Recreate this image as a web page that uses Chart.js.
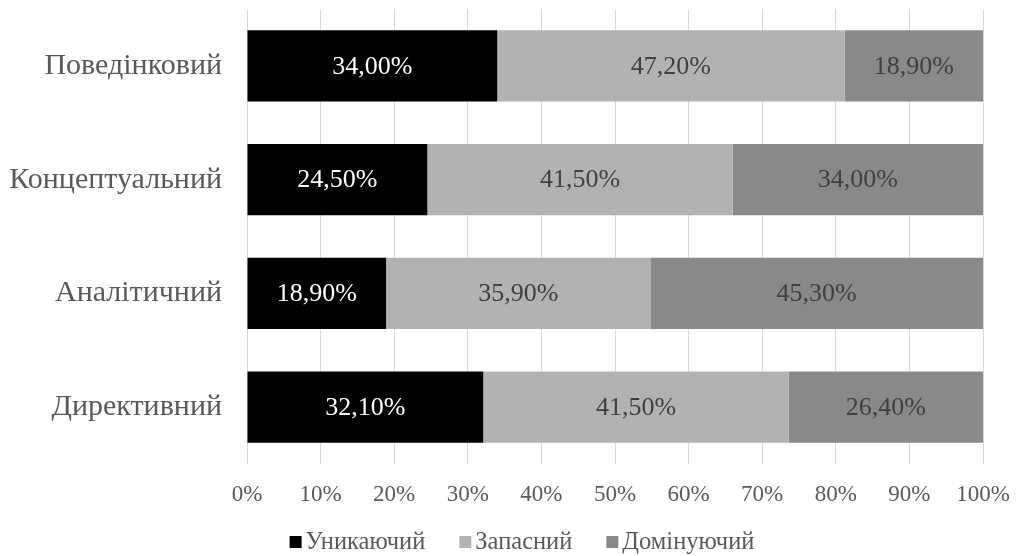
<!DOCTYPE html>
<html>
<head>
<meta charset="utf-8">
<script src="https://cdn.jsdelivr.net/npm/chart.js@4.4.1/dist/chart.umd.min.js"></script>
<style>
  html, body { margin: 0; padding: 0; background: #fff; }
  #wrap { width: 1017px; height: 556px; }
</style>
</head>
<body>
<div id="wrap"><canvas id="chart"></canvas></div>
<script>
// categories, top to bottom
const categories = ['Поведінковий', 'Концептуальний', 'Аналітичний', 'Директивний'];
const seriesNames = ['Уникаючий', 'Запасний', 'Домінуючий'];
// shares per category, %
const avoidingVals = [34.0, 24.5, 18.9, 32.1];
const reserveVals  = [47.2, 41.5, 35.9, 41.5];
const dominantVals = [18.9, 34.0, 45.3, 26.4];
const seriesColors = ['#000000', '#b2b2b2', '#898989'];
const labelColors  = ['#ffffff', '#404040', '#404040'];

const FONT = '"Liberation Serif", "Times New Roman", serif';

function fmt(v){ return v.toFixed(2).replace('.', ',') + '%'; }

// value labels centred in every segment
const segLabels = {
  id: 'segLabels',
  afterDatasetsDraw(chart){
    const ctx = chart.ctx;
    ctx.save();
    ctx.font = '26px ' + FONT;
    ctx.textAlign = 'center';
    ctx.textBaseline = 'middle';
    chart.data.datasets.forEach((ds, i) => {
      const meta = chart.getDatasetMeta(i);
      meta.data.forEach((el, j) => {
        const p = el.getProps(['x', 'y', 'base'], true);
        const right = Math.min(p.x, chart.chartArea.right);
        ctx.fillStyle = labelColors[i];
        ctx.fillText(fmt(ds.data[j]), (right + p.base) / 2, p.y + 1);
      });
    });
    ctx.restore();
  }
};

// legend row under the axis
const bottomLegend = {
  id: 'bottomLegend',
  afterDraw(chart){
    const ctx = chart.ctx;
    ctx.save();
    ctx.font = '24.5px ' + FONT;
    ctx.textBaseline = 'middle';
    const box = 12, gap = 4, spacing = 34;
    const widths = seriesNames.map(n => box + gap + ctx.measureText(n).width);
    const total = widths.reduce((a, b) => a + b, 0) + spacing * (seriesNames.length - 1);
    let x = 522 - total / 2;
    const y = 542;
    seriesNames.forEach((n, i) => {
      ctx.fillStyle = seriesColors[i];
      ctx.fillRect(x, y - box / 2, box, box);
      ctx.fillStyle = '#595959';
      ctx.fillText(n, x + box + gap, y + 1);
      x += widths[i] + spacing;
    });
    ctx.restore();
  }
};

const valueSets = [avoidingVals, reserveVals, dominantVals];

new Chart(document.getElementById('chart'), {
  type: 'bar',
  data: {
    labels: categories,
    datasets: seriesNames.map((name, i) => ({
      label: name,
      data: valueSets[i],
      backgroundColor: seriesColors[i],
      borderWidth: 0,
      barPercentage: 0.625,
      categoryPercentage: 1
    }))
  },
  options: {
    indexAxis: 'y',
    responsive: true,
    maintainAspectRatio: false,
    animation: false,
    layout: { padding: { top: 9, right: 34, bottom: 24, left: 0 } },
    plugins: { legend: { display: false }, tooltip: { enabled: false } },
    scales: {
      x: {
        stacked: true,
        min: 0,
        max: 100,
        border: { display: false },
        grid: { color: '#d9d9d9', lineWidth: 1, drawTicks: false },
        ticks: {
          stepSize: 10,
          padding: 17,
          color: '#595959',
          font: { family: FONT, size: 23 },
          callback: v => v + '%'
        },
        afterFit(scale){
          scale.height = 68;
          scale.paddingLeft = 0;
          scale.paddingRight = 0;
        }
      },
      y: {
        stacked: true,
        border: { display: false },
        grid: { display: false, drawTicks: false },
        ticks: {
          padding: 25,
          color: '#595959',
          font: { family: FONT, size: 30 }
        },
        afterFit(scale){
          scale.width = 247;
          scale.paddingTop = 0;
          scale.paddingBottom = 0;
        }
      }
    }
  },
  plugins: [segLabels, bottomLegend]
});
</script>
</body>
</html>
